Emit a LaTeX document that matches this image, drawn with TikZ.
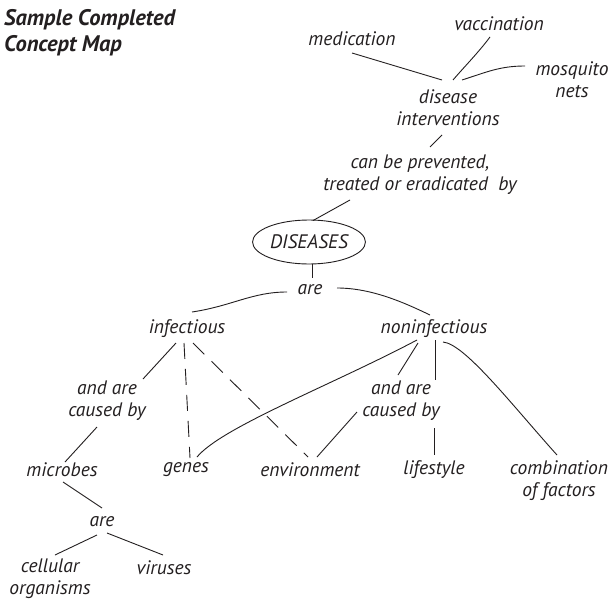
\documentclass[tikz,border=0pt]{standalone}
\usepackage{fontspec}
\setmainfont{PT Sans}
\usetikzlibrary{shapes.geometric}
\definecolor{inkgray}{HTML}{231F20}

\begin{document}
\begin{tikzpicture}[x=1pt,y=-1pt,
    % define styles
    concept/.style={
        font=\fontsize{19.5}{22}\selectfont\itshape,
        text=inkgray,
        align=center,
        inner sep=1pt
    },
    heading/.style={
        font=\fontsize{22.5}{26}\selectfont\bfseries\itshape,
        text=inkgray,
        align=left,
        anchor=west,
        inner sep=0pt
    },
    link/.style={
        draw=inkgray,
        line width=0.9pt
    },
    dashlink/.style={
        link,
        dash pattern=on 16pt off 10pt
    }
]
\path[use as bounding box, fill=white] (0,0) rectangle (613,602);

% Title
\node[heading] (title) at (4,33) {Sample Completed\\Concept Map};

% Interventions
\node[concept] (medic) at (352,39) {medication};
\node[concept] (vacc) at (499,24) {vaccination};
\node[concept] (mosq) at (572,80) {mosquito\\nets};
\node[concept] (interv) at (448,108) {disease\\interventions};
\node[concept] (prevent) at (420,175) {can be prevented,\\treated or eradicated~ by};

% Main concept
\node[concept,ellipse,draw=inkgray,line width=0.9pt,
      minimum width=108pt,minimum height=44pt] (dis) at (309,242) {DISEASES};
\node[concept] (are1) at (310,290) {are};
\node[concept] (infect) at (187,329) {infectious};
\node[concept] (noninf) at (434,329) {noninfectious};

% Causes
\node[concept] (cause1) at (107,401) {and are\\caused by};
\node[concept] (cause2) at (401,401) {and are\\caused by};
\node[concept] (microbes) at (62,470) {microbes};
\node[concept] (genes) at (186,470) {genes};
\node[concept] (env) at (310,470) {environment};
\node[concept] (life) at (434,470) {lifestyle};
\node[concept] (combo) at (559,481) {combination\\of factors};

% Microbes
\node[concept] (are2) at (102,522) {are};
\node[concept] (cellular) at (50,579) {cellular\\organisms};
\node[concept] (viruses) at (164,568) {viruses};

% Links to disease interventions
\draw[link] ([shift={(0,14)}]medic.center) -- ([shift={(-6,-28)}]interv.center);
\draw[link] ([shift={(-9,13)}]vacc.center) .. controls +(-12,16) and +(12,-14) .. ([shift={(5,-28)}]interv.center);
\draw[link] ([shift={(-47,-14)}]mosq.center) .. controls +(-25,0) and +(25,-8) .. ([shift={(14,-28)}]interv.center);
\draw[link] ([shift={(-6,27)}]interv.center) -- ([shift={(10,-28)}]prevent.center);
\draw[link] ([shift={(-70,25)}]prevent.center) -- ([shift={(4,1)}]dis.north);

% DISEASES are ...
\draw[link] ([xshift=3pt]dis.south) -- ([shift={(2,-12)}]are1.center);
\draw[link] ([shift={(-23,2)}]are1.center) .. controls +(-35,0) and +(40,-6) .. ([shift={(5,-17)}]infect.center);
\draw[link] ([shift={(27,-2)}]are1.center) .. controls +(35,0) and +(-25,-12) .. ([shift={(-4,-14)}]noninf.center);

% Infectious
\draw[link] ([shift={(-11,14)}]infect.center) -- ([shift={(36,-22)}]cause1.center);
\draw[dashlink] ([shift={(-3,14)}]infect.center) -- ([shift={(4,-12)}]genes.center);
\draw[dashlink] ([shift={(6,14)}]infect.center) -- ([shift={(-2,-13)}]env.center);

% Noninfectious
\draw[link] ([shift={(-17,11)}]noninf.center) .. controls +(-85,45) and +(25,-30) .. ([shift={(11,-13)}]genes.center);
\draw[link] ([shift={(-16,14)}]noninf.center) -- ([shift={(-3,-26)}]cause2.center);
\draw[link] ([shift={(1,11)}]noninf.center) -- ([shift={(34,-21)}]cause2.center);
\draw[link] ([shift={(9,13)}]noninf.center) .. controls +(22,2) and +(-45,-50) .. ([shift={(-2,-26)}]combo.center);
\draw[link] ([shift={(33,27)}]cause2.center) -- ([shift={(0,-15)}]life.center);
\draw[link] ([shift={(-44,11)}]cause2.center) -- ([shift={(7,-13)}]env.center);

% Microbes
\draw[link] ([shift={(-10,26)}]cause1.center) -- ([shift={(3,-8)}]microbes.center);
\draw[link] ([shift={(1,12)}]microbes.center) -- ([shift={(0,-14)}]are2.center);
\draw[link] ([shift={(-5,13)}]are2.center) -- ([shift={(5,-24)}]cellular.center);
\draw[link] ([shift={(5,11)}]are2.center) -- ([shift={(-1,-13)}]viruses.center);
\end{tikzpicture}
\end{document}
